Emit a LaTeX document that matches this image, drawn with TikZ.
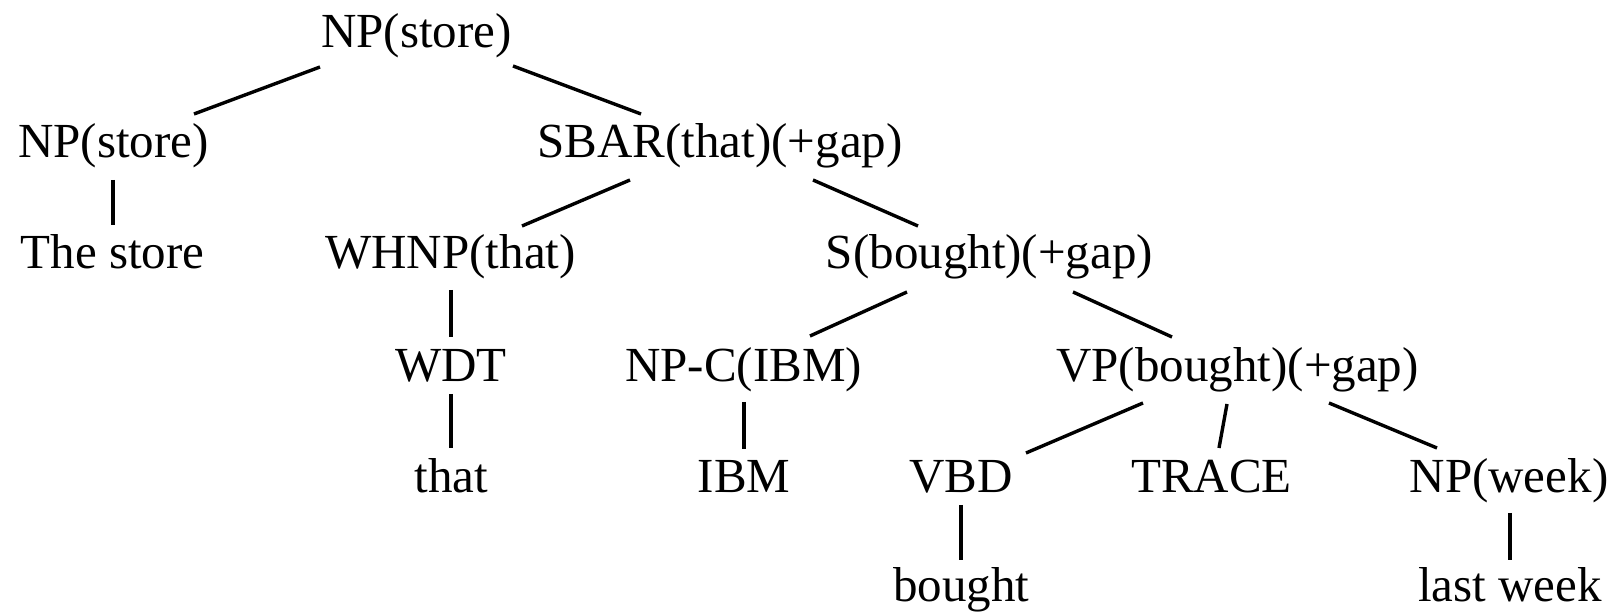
\documentclass[tikz,border=0pt]{standalone}
\usepackage{fontspec}
\setmainfont{Liberation Serif}
\usetikzlibrary{calc}
\begin{document}
\begin{tikzpicture}[x=0.5pt,y=-0.5pt,
  lbl/.style={anchor=base,inner sep=0pt,font=\fontsize{24.5pt}{29pt}\selectfont},
  edge/.style={line width=1.7pt}]
\useasboundingbox (0,0) rectangle (1619,613);
% nodes
\node[lbl] (top) at (416.5,48) {NP(store)};
\node[lbl] (npL) at (113.5,158) {NP(store)};
\node[lbl] (sbar) at (720,158) {SBAR(that)(+gap)};
\node[lbl] (store) at (112.5,269) {The store};
\node[lbl] (whnp) at (450.5,269) {WHNP(that)};
\node[lbl] (s) at (989.5,269) {S(bought)(+gap)};
\node[lbl] (wdt) at (451,382) {WDT};
\node[lbl] (npc) at (743.5,382) {NP-C(IBM)};
\node[lbl] (vp) at (1237.5,382) {VP(bought)(+gap)};
\node[lbl] (that) at (451.5,493) {that};
\node[lbl] (ibm) at (744,493) {IBM};
\node[lbl] (vbd) at (961,493) {VBD};
\node[lbl] (trace) at (1211.5,493) {TRACE};
\node[lbl] (npw) at (1509,493) {NP(week)};
\node[lbl] (bought) at (961.5,602) {bought};
\node[lbl] (lastweek) at (1510,602) {last week};
% edges
\draw[edge] ($(top.base)+(-96.5,19)$) -- ($(npL.base)+(80.5,-44)$);
\draw[edge] ($(top.base)+(96.5,18)$) -- ($(sbar.base)+(-79,-44)$);
\draw[edge] ($(npL.base)+(-0.5,22)$) -- ($(store.base)+(0.5,-44)$);
\draw[edge] ($(sbar.base)+(-90,22)$) -- ($(whnp.base)+(71.5,-43)$);
\draw[edge] ($(sbar.base)+(93,22)$) -- ($(s.base)+(-71.5,-43)$);
\draw[edge] ($(whnp.base)+(0.5,21)$) -- ($(wdt.base)+(0,-45)$);
\draw[edge] ($(wdt.base)+(0,12)$) -- ($(that.base)+(-0.5,-45)$);
\draw[edge] ($(s.base)+(-82.5,23)$) -- ($(npc.base)+(66.5,-46)$);
\draw[edge] ($(s.base)+(83.5,23)$) -- ($(vp.base)+(-65.5,-45)$);
\draw[edge] ($(npc.base)+(0.5,20)$) -- ($(ibm.base)+(0,-44)$);
\draw[edge] ($(vp.base)+(-94.5,21)$) -- ($(vbd.base)+(65,-40)$);
\draw[edge] ($(vp.base)+(-10.5,22)$) -- ($(trace.base)+(7.5,-45)$);
\draw[edge] ($(vp.base)+(91.5,21)$) -- ($(npw.base)+(-72,-45)$);
\draw[edge] ($(vbd.base)+(0,12)$) -- ($(bought.base)+(-0.5,-42)$);
\draw[edge] ($(npw.base)+(1,20)$) -- ($(lastweek.base)+(0,-42)$);
\end{tikzpicture}
\end{document}
